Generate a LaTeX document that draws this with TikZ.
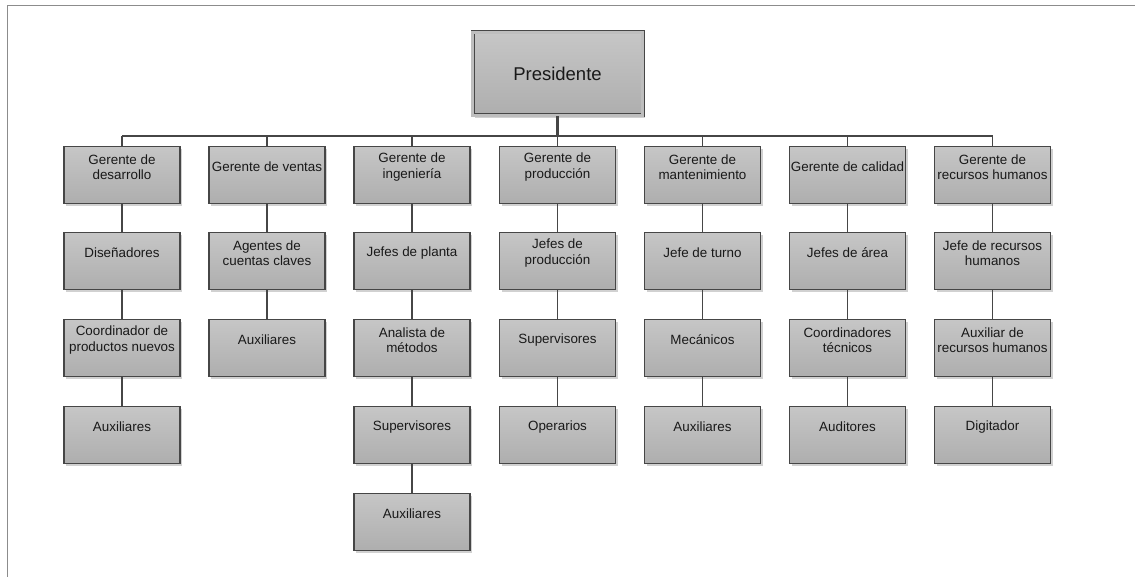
\documentclass[tikz,border=0pt]{standalone}
\usepackage{fontspec}
\setmainfont{Liberation Sans}
\usetikzlibrary{shadows}
\definecolor{boxtop}{RGB}{198,198,198}
\definecolor{boxbot}{RGB}{174,174,174}
\definecolor{edge}{RGB}{70,70,70}
\definecolor{framec}{RGB}{140,140,140}
\tikzset{
  orgbox/.style={rectangle, draw=edge, line width=1.1pt, top color=boxtop, bottom color=boxbot,
    minimum width=116pt, minimum height=57pt, inner sep=0pt, anchor=north,
    drop shadow={shadow xshift=2.2pt, shadow yshift=-2.2pt, fill=black!18, opacity=1}},
  lbl/.style={anchor=center, yshift=-21pt, align=center, font=\fontsize{13.4}{15.5}\selectfont, text=black!90},
  conn/.style={draw=edge, line width=1.2pt},
  busline/.style={draw=edge, line width=2pt},
}
\newcommand{\obox}[4]{\node[orgbox, label={[lbl]north:{#4}}] (#1) at (#2,#3) {};}
\begin{document}
\begin{tikzpicture}[x=1pt,y=-1pt]
\useasboundingbox (0,0) rectangle (1135,577);
\draw[framec, line width=1pt] (7,577) -- (7,6) -- (1135,6);
% President
\node[rectangle, draw=edge, line width=0.9pt, double={rgb,255:red,190;green,190;blue,190}, double distance=2.2pt,
  top color=boxtop, bottom color=boxbot, minimum width=170pt, minimum height=83pt, inner sep=0pt,
  drop shadow={shadow xshift=2.2pt, shadow yshift=-2.2pt, fill=black!18, opacity=1},
  font=\fontsize{18.5}{22}\selectfont, text=black!90] (p) at (557.5,74) {Presidente};
\coordinate (bus) at (557.5,136.5);
% Row y tops
\def\ra{146}\def\rb{232}\def\rc{319}\def\rd{406}\def\re{493}
% Column 1
\obox{a1}{122}{\ra}{Gerente de\\desarrollo}
\obox{a2}{122}{\rb}{Diseñadores}
\obox{a3}{122}{\rc}{Coordinador de\\productos nuevos}
\obox{a4}{122}{\rd}{Auxiliares}
% Column 2
\obox{b1}{267}{\ra}{Gerente de ventas}
\obox{b2}{267}{\rb}{Agentes de\\cuentas claves}
\obox{b3}{267}{\rc}{Auxiliares}
% Column 3
\obox{c1}{412}{\ra}{Gerente de\\ingeniería}
\obox{c2}{412}{\rb}{Jefes de planta}
\obox{c3}{412}{\rc}{Analista de\\métodos}
\obox{c4}{412}{\rd}{Supervisores}
\obox{c5}{412}{\re}{Auxiliares}
% Column 4
\obox{d1}{557.5}{\ra}{Gerente de\\producción}
\obox{d2}{557.5}{\rb}{Jefes de\\producción}
\obox{d3}{557.5}{\rc}{Supervisores}
\obox{d4}{557.5}{\rd}{Operarios}
% Column 5
\obox{e1}{702.5}{\ra}{Gerente de\\mantenimiento}
\obox{e2}{702.5}{\rb}{Jefe de turno}
\obox{e3}{702.5}{\rc}{Mecánicos}
\obox{e4}{702.5}{\rd}{Auxiliares}
% Column 6
\obox{f1}{847.5}{\ra}{Gerente de calidad}
\obox{f2}{847.5}{\rb}{Jefes de área}
\obox{f3}{847.5}{\rc}{Coordinadores\\técnicos}
\obox{f4}{847.5}{\rd}{Auditores}
% Column 7
\obox{g1}{992.5}{\ra}{Gerente de\\recursos humanos}
\obox{g2}{992.5}{\rb}{Jefe de recursos\\humanos}
\obox{g3}{992.5}{\rc}{Auxiliar de\\recursos humanos}
\obox{g4}{992.5}{\rd}{Digitador}
% Connectors
\draw[busline, line width=2.6pt] (p.south) -- (bus);
\draw[busline] (a1.north |- bus) -- (g1.north |- bus);
\foreach \n in {a1,b1,c1,d1,e1,f1,g1}{
  \draw[conn] (\n.north) -- (\n.north |- bus);
}
\foreach \u/\v in {a1/a2,a2/a3,a3/a4,b1/b2,b2/b3,c1/c2,c2/c3,c3/c4,c4/c5,d1/d2,d2/d3,d3/d4,e1/e2,e2/e3,e3/e4,f1/f2,f2/f3,f3/f4,g1/g2,g2/g3,g3/g4}{
  \draw[conn] (\u.south) -- (\v.north);
}
\end{tikzpicture}
\end{document}
